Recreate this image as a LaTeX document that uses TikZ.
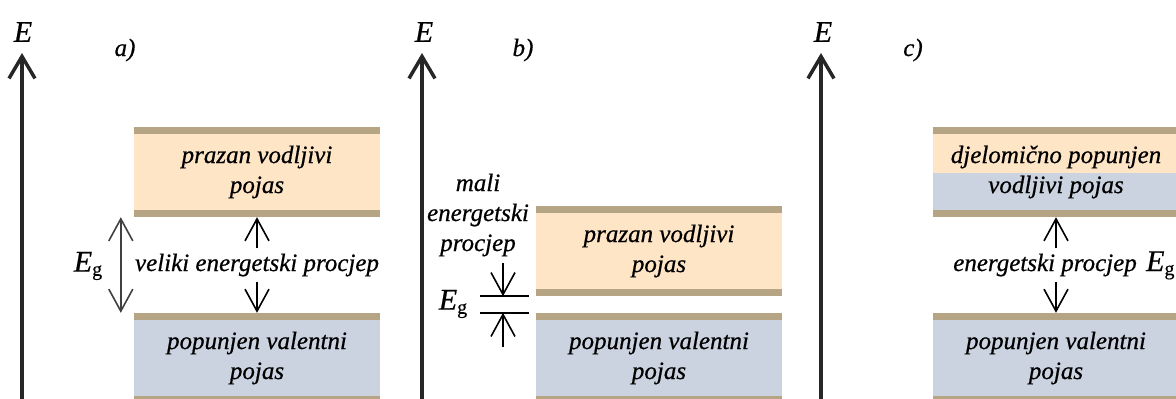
\documentclass[tikz,border=0pt]{standalone}
\usepackage{fontspec}
\setmainfont{Liberation Serif}[ItalicFeatures={FakeBold=0.6}, UprightFeatures={FakeBold=0.4}]
\usetikzlibrary{positioning,arrows.meta}
\definecolor{bandtan}{RGB}{181,165,133}
\definecolor{condpeach}{RGB}{254,229,198}
\definecolor{valblue}{RGB}{203,211,224}
\colorlet{egray}{black!75}
\newcommand\Eg{\textit{E}\raisebox{-0.3ex}{\fontsize{20}{20}\selectfont g}}
\newcommand\tanstrips{%
  \fill[bandtan] (path picture bounding box.north west) rectangle ([yshift=-7pt]path picture bounding box.north east);
  \fill[bandtan] (path picture bounding box.south west) rectangle ([yshift=7pt]path picture bounding box.south east);}

\begin{document}
\begin{tikzpicture}[x=1pt, y=-1pt,
  every node/.style={font=\fontsize{25}{30}\selectfont\itshape, align=center, inner sep=0pt},
  band/.style={minimum width=246pt, minimum height=90pt, path picture={\tanstrips}},
  partband/.style={band, fill=valblue, path picture={
    \fill[condpeach] ([yshift=-7pt]path picture bounding box.north west) rectangle ([yshift=-46pt]path picture bounding box.north east);
    \tanstrips}},
  gaptext/.style={inner sep=5pt},
  axislabel/.style={font=\fontsize{30}{30}\selectfont\itshape},
  eglabel/.style={font=\fontsize{30}{30}\selectfont},
  axis/.style={-{Straight Barb[length=22pt,width=26pt]}, line width=3.5pt, black!85},
  gap/.style={-{Straight Barb[length=22pt,width=24pt]}, line width=1.6pt}]
    \useasboundingbox (0,0) rectangle (1176,399);
    \clip (0,0) rectangle (1176,399);

    % a) large gap
    \draw[axis] (22,420) -- (22,53);
    \node[axislabel] (aE) at (23,32) {E};
    \node (aLab) at (125,50) {a)};
    \node[band, fill=condpeach] (aC) at (257,172) {prazan vodljivi\\pojas};
    \node[band, fill=valblue] (aV) at (257,358) {popunjen valentni\\pojas};
    \node[gaptext] (aGap) at (257,265) {veliki energetski procjep};
    \draw[gap] (aGap.north) -- (aGap.north |- aC.south);
    \draw[gap] (aGap.south) -- (aGap.south |- aV.north);
    \draw[gap, {Straight Barb[length=22pt,width=24pt]}-{Straight Barb[length=22pt,width=24pt]}, egray]
        ([xshift=-13pt]aC.south west) -- ([xshift=-13pt]aV.north west);
    \node[eglabel] (aEg) at (88,266) {\Eg};

    % b) small gap
    \draw[axis] (422,420) -- (422,53);
    \node[axislabel] (bE) at (424,32) {E};
    \node (bLab) at (523,50) {b)};
    \node[band, fill=condpeach] (bC) at (659,251) {prazan vodljivi\\pojas};
    \node[band, fill=valblue] (bV) at (659,358) {popunjen valentni\\pojas};
    \node (bGap) at (478,215) {mali\\energetski\\procjep};
    \draw[line width=1.6pt] ([xshift=-7pt]bC.south west) -- ([xshift=-56pt]bC.south west);
    \draw[line width=1.6pt] ([xshift=-7pt]bV.north west) -- ([xshift=-56pt]bV.north west);
    \coordinate (bTop) at (503,263);
    \coordinate (bBot) at (503,347);
    \draw[gap] (bTop) -- (bTop |- bC.south);
    \draw[gap] (bBot) -- (bBot |- bV.north);
    \node[eglabel] (bEg) at (453,304) {\Eg};

    % c) metal
    \draw[axis] (821,420) -- (821,53);
    \node[axislabel] (cE) at (823,32) {E};
    \node (cLab) at (913,50) {c)};
    \node[partband] (cC) at (1056,172) {djelomično popunjen\\vodljivi pojas};
    \node[band, fill=valblue] (cV) at (1056,358) {popunjen valentni\\pojas};
    \node[gaptext] (cGap) at (1045,265) {energetski procjep};
    \node[eglabel, anchor=base west] (cEg) at ([xshift=4pt]cGap.base east) {\Eg};
    \draw[gap] (cC.south |- cGap.north) -- (cC.south);
    \draw[gap] (cV.north |- cGap.south) -- (cV.north);
\end{tikzpicture}
\end{document}
